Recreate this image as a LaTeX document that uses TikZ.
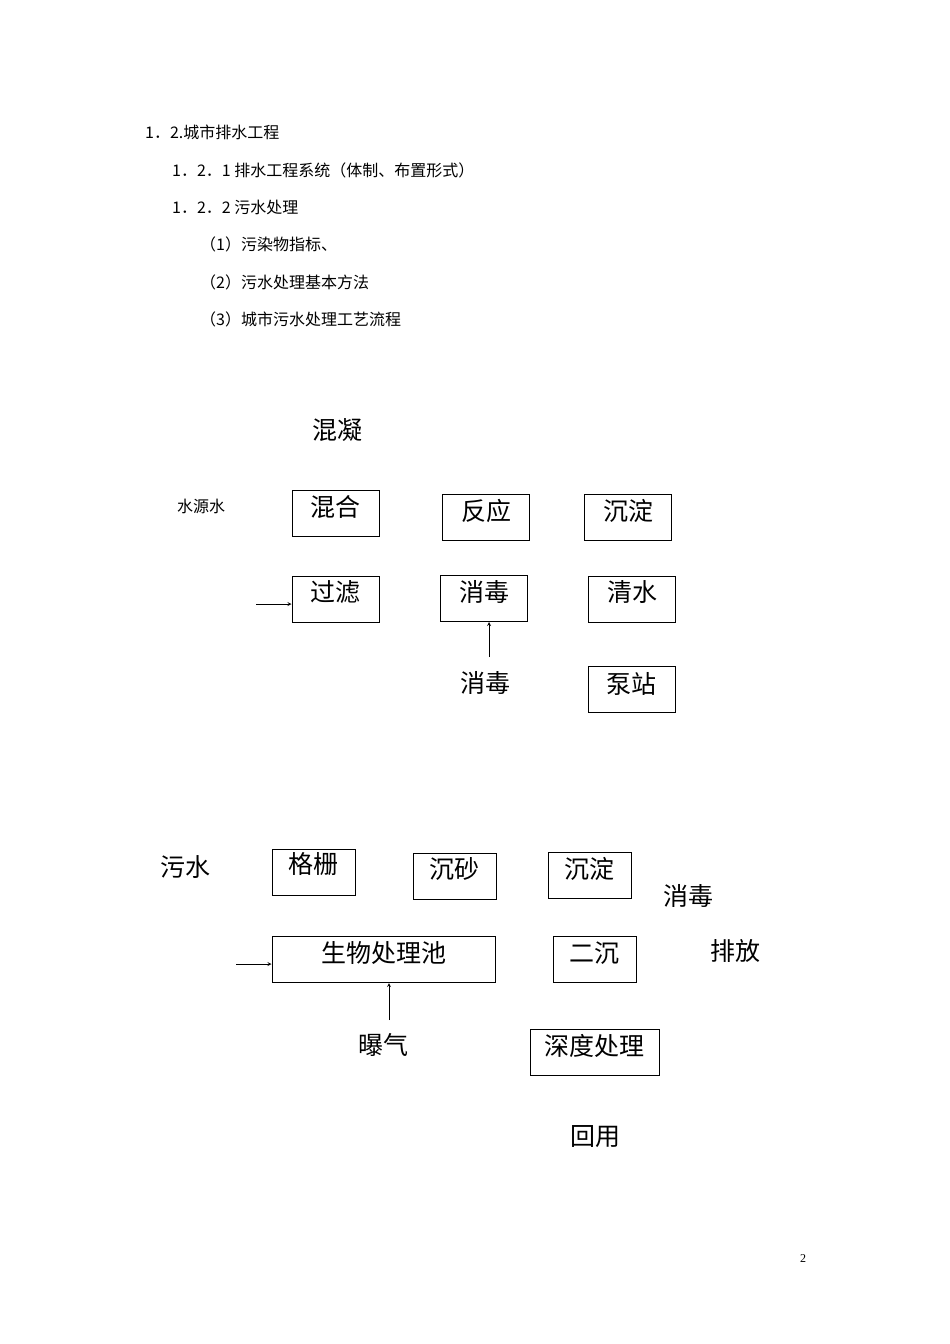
\documentclass[tikz,border=0pt]{standalone}
\usepackage{fontspec}
\setmainfont{Liberation Serif}
\newfontfamily\cjk{Noto Sans CJK SC}
\begin{document}
\begin{tikzpicture}[x=1pt,y=-1pt,
  bx/.style={draw,line width=1pt,minimum width=#1,minimum height=46pt,inner sep=0pt},
  bx/.default=87pt,
  big/.style={font=\cjk\fontsize{25}{25}\selectfont},
  sm/.style={font=\cjk\fontsize{16}{16}\selectfont,anchor=west,inner sep=0pt},
  arr/.style={-stealth,line width=0.8pt}]
\useasboundingbox[fill=white] (0,0) rectangle (950,1344);
\node[sm] (h1) at (145,132) {1．2.城市排水工程};
\node[sm] (h2) at (172,170) {1．2．1 排水工程系统（体制、布置形式）};
\node[sm] (h3) at (172,207) {1．2．2 污水处理};
\node[sm] (h4) at (200,244) {（1）污染物指标、};
\node[sm] (h5) at (200,282) {（2）污水处理基本方法};
\node[sm] (h6) at (200,319) {（3）城市污水处理工艺流程};
% upper
\node[big] (hn) at (337,430) {混凝};
\node[font=\cjk\fontsize{16}{16}\selectfont] (sy) at (201,506) {水源水};
\node[bx] (hh) at (335.5,513) {};
\node[big] at (335.5,507) {混合};
\node[bx] (fy) at (486,517.5) {};
\node[big] at (486,511) {反应};
\node[bx] (cd) at (628,517.5) {};
\node[big] at (628,511) {沉淀};
\node[bx] (gl) at (335.5,599) {};
\node[big] at (335.5,592) {过滤};
\node[bx] (xd) at (484,598.5) {};
\node[big] at (484,592) {消毒};
\node[bx] (qs) at (632,599) {};
\node[big] at (632,592) {清水};
\node[bx] (bz) at (631.5,689.5) {};
\node[big] at (631.5,684) {泵站};
\coordinate (a1) at (256,604);
\draw[arr] (a1) -- (gl.west |- a1);
\node[big] (xdl) at (485,683) {消毒};
\coordinate (a2) at (489,657);
\draw[arr] (a2) -- (a2 |- xd.south);
% lower
\node[big] (ws) at (185,867) {污水};
\node[bx=83pt] (gs) at (313.5,872) {};
\node[big] at (313.5,864) {格栅};
\node[bx=83pt] (cs) at (454.5,876) {};
\node[big] at (454.5,869) {沉砂};
\node[bx=83pt] (cd2) at (589.5,875.5) {};
\node[big] at (589.5,869) {沉淀};
\node[big] (xd2) at (688,896) {消毒};
\node[bx=223pt] (sw) at (383.5,959.5) {};
\node[big] at (383.5,953) {生物处理池};
\node[bx=83pt] (ec) at (594.5,959.5) {};
\node[big] at (594.5,953) {二沉};
\node[big] (pf) at (735,951) {排放};
\coordinate (a3) at (236,964);
\draw[arr] (a3) -- (sw.west |- a3);
\coordinate (a4) at (389,1020);
\draw[arr] (a4) -- (a4 |- sw.south);
\node[big] (bq) at (383,1045) {曝气};
\node[bx=129pt] (sd) at (594.5,1052.5) {};
\node[big] at (594.5,1046) {深度处理};
\node[big] (hy) at (595,1137) {回用};
\node[font=\fontsize{12}{12}\selectfont] (pg) at (803,1259) {2};
\end{tikzpicture}
\end{document}
